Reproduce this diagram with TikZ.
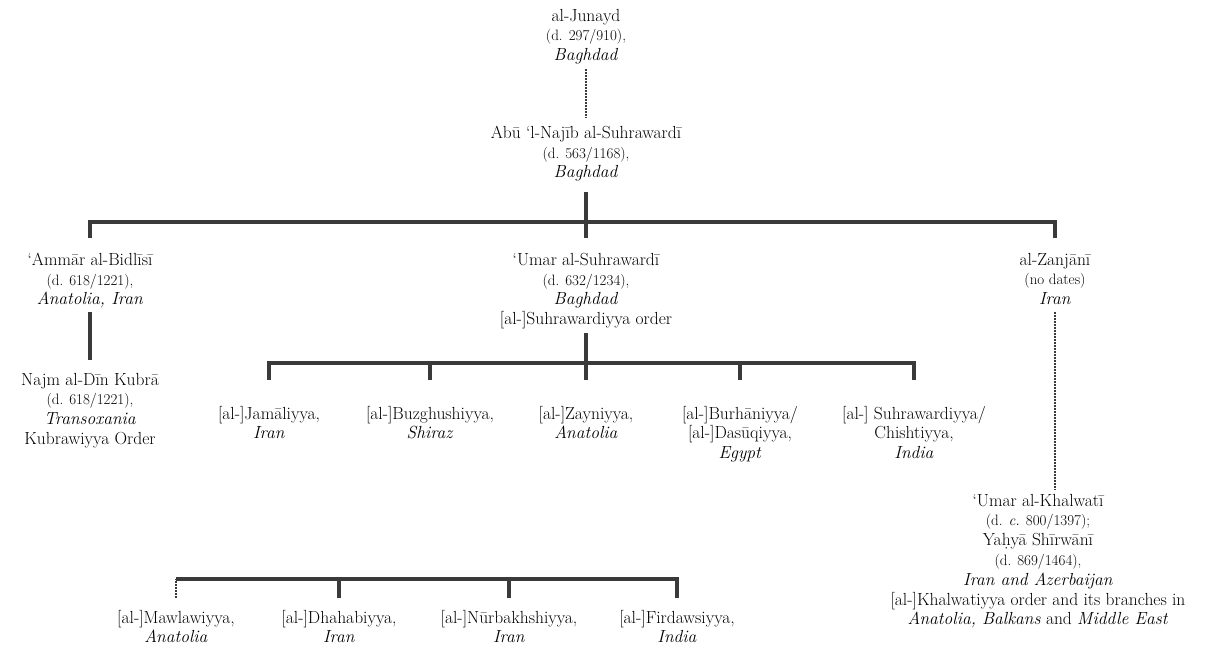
\documentclass[tikz,border=0pt]{standalone}
\usepackage{fontspec}
\setmainfont{Latin Modern Roman}
\definecolor{linegray}{HTML}{3A3A3A}
\newcommand{\datefont}{\fontsize{15}{16}\selectfont}

\begin{document}
\begin{tikzpicture}[x=1pt, y=1pt,
		entry/.style={align=center, inner sep=0pt, outer sep=0pt, anchor=north, text=black,
			font=\fontsize{17.5}{19.8}\selectfont},
		bar/.style={draw=linegray, line width=3.2pt},
		dots/.style={draw=linegray, line width=2.3pt, dash pattern=on 1.6pt off 1.4pt}]
		\useasboundingbox (0,0) rectangle (1215,-647);

		\node[entry] (junayd) at (586,-9) {al-Junayd\\{\datefont (d. 297/910),}\\\textit{Baghdad}};
		\node[entry] (abu) at (586,-126) {Abū ‘l-Najīb al-Suhrawardī\\{\datefont (d. 563/1168),}\\\textit{Baghdad}};

		\node[entry] (ammar) at (90,-253) {‘Ammār al-Bidlīsī\\{\datefont (d. 618/1221),}\\\textit{Anatolia, Iran}};
		\node[entry] (najm) at (90,-373) {Najm al-Dīn Kubrā\\{\datefont (d. 618/1221),}\\\textit{Transoxania}\\Kubrawiyya Order};
		\node[entry] (umar) at (586,-253) {‘Umar al-Suhrawardī\\{\datefont (d. 632/1234),}\\\textit{Baghdad}\\{[al-]}Suhrawardiyya order};
		\node[entry] (zanjani) at (1055,-253) {al-Zanjānī\\{\datefont (no dates)}\\\textit{Iran}};

		\node[entry] (jamali) at (269,-406) {[al-]Jamāliyya,\\\textit{Iran}};
		\node[entry] (buzghushi) at (430,-406) {[al-]Buzghushiyya,\\\textit{Shiraz}};
		\node[entry] (zayni) at (586,-406) {[al-]Zayniyya,\\\textit{Anatolia}};
		\node[entry] (burhani) at (740,-406) {[al-]Burhāniyya/\\{[al-]}Dasūqiyya,\\\textit{Egypt}};
		\node[entry] (chishti) at (914,-406) {[al-] Suhrawardiyya/\\Chishtiyya,\\\textit{India}};

		\node[entry] (khalwati) at (1038,-494) {‘Umar al-Khalwatī\\{\datefont (d. \textit{c.} 800/1397);}\\Yaḥyā Shīrwānī\\{\datefont (d. 869/1464),}\\\textit{Iran and Azerbaijan}\\{[al-]}Khalwatiyya order and its branches in\\\textit{Anatolia, Balkans} and \textit{Middle East}};

		\node[entry] (mawlawi) at (176,-610) {[al-]Mawlawiyya,\\\textit{Anatolia}};
		\node[entry] (dhahabi) at (339,-610) {[al-]Dhahabiyya,\\\textit{Iran}};
		\node[entry] (nurbakhshi) at (509,-610) {[al-]Nūrbakhshiyya,\\\textit{Iran}};
		\node[entry] (firdawsi) at (677,-610) {[al-]Firdawsiyya,\\\textit{India}};

		% lines of descent
		\draw[dots, shorten <=5pt, shorten >=8pt] (junayd.south) -- (abu.north);
		\draw[bar, shorten <=10pt, shorten >=15pt] (abu.south) -- (umar.north);
		\draw[bar] ([yshift=15pt]ammar.north) -- ++(0,16) -| ([yshift=15pt]zanjani.north);
		\draw[bar, shorten <=4pt, shorten >=13pt] (ammar.south) -- (najm.north);
		\draw[dots, shorten <=7pt, shorten >=4pt] (zanjani.south) -- (zanjani.south |- khalwati.north);

		\draw[bar, shorten <=4pt, shorten >=26pt] (umar.south) -- (zayni.north);
		\draw[bar] ([yshift=26pt]jamali.north) -- ++(0,17) -| ([yshift=26pt]chishti.north);
		\foreach \n in {buzghushi, burhani}
			\draw[bar] ([yshift=26pt]\n.north) -- ++(0,17);

		\draw[bar] ([yshift=31pt]mawlawi.north) -| ([yshift=12pt]firdawsi.north);
		\draw[dots] ([yshift=12pt]mawlawi.north) -- ++(0,19);
		\foreach \n in {dhahabi, nurbakhshi}
			\draw[bar] ([yshift=12pt]\n.north) -- ++(0,19);
	\end{tikzpicture}
\end{document}
